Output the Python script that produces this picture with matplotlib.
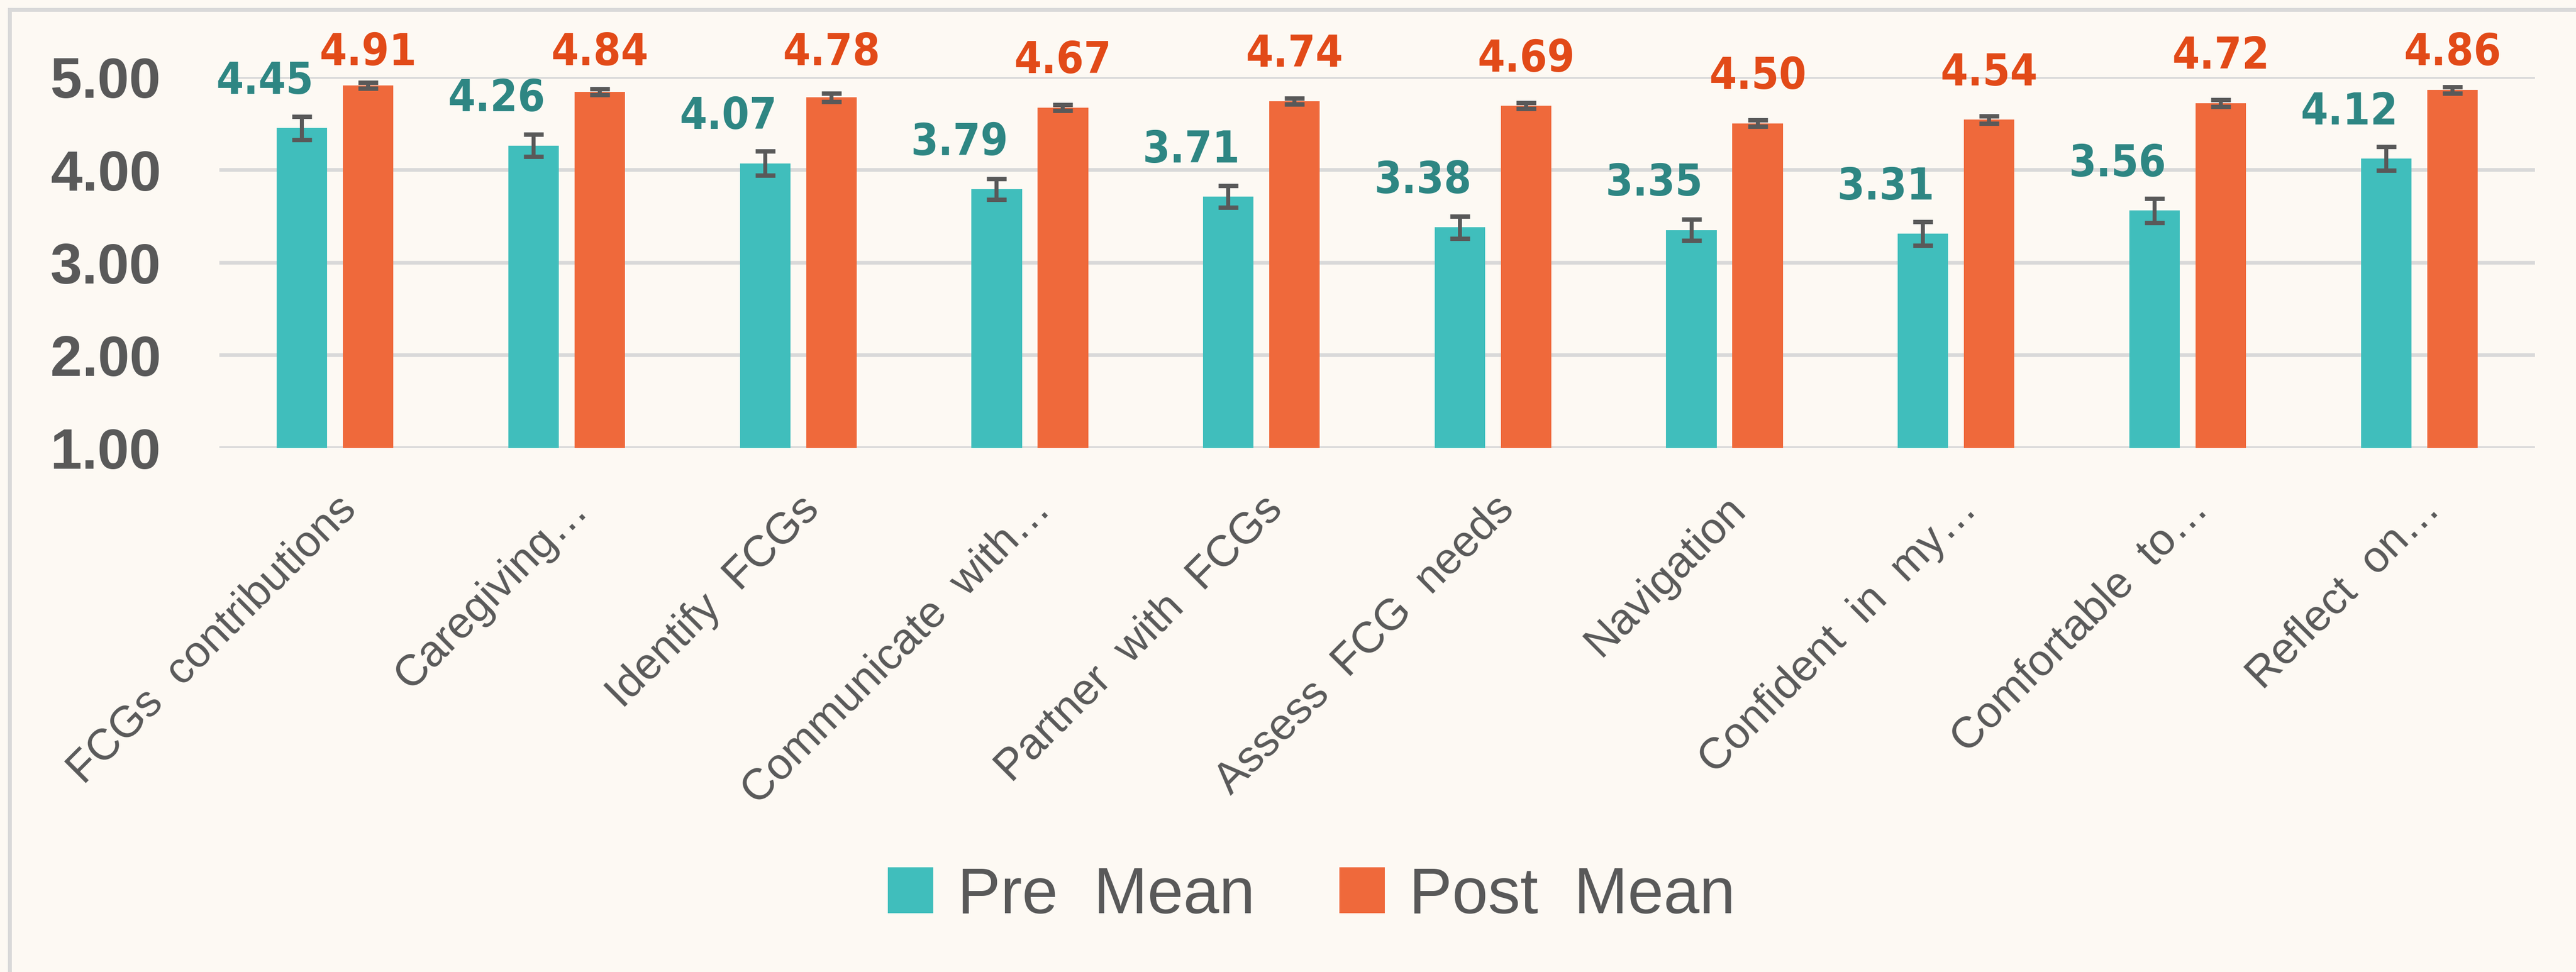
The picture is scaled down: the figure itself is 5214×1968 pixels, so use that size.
import matplotlib
matplotlib.use("Agg")
import matplotlib.pyplot as plt
from matplotlib.patches import Patch
from matplotlib.lines import Line2D
import numpy as np

categories = ["FCGs  contributions", "Caregiving\u2026", "Identify  FCGs", "Communicate  with\u2026",
              "Partner  with  FCGs", "Assess  FCG  needs", "Navigation", "Confident  in  my\u2026",
              "Comfortable  to\u2026", "Reflect  on\u2026"]
pre_mean = [4.45, 4.26, 4.07, 3.79, 3.71, 3.38, 3.35, 3.31, 3.56, 4.12]
post_mean = [4.91, 4.84, 4.78, 4.67, 4.74, 4.69, 4.50, 4.54, 4.72, 4.86]
pre_err = [0.125, 0.12, 0.13, 0.112, 0.117, 0.12, 0.115, 0.127, 0.129, 0.129]
post_err = [0.034, 0.032, 0.045, 0.034, 0.032, 0.031, 0.035, 0.04, 0.037, 0.035]
y_ticks = [1, 2, 3, 4, 5]
legend_labels = ["Pre  Mean", "Post  Mean"]

BG = "#FDF9F3"
TEAL = "#40BEBC"
ORANGE = "#EF693B"
TEAL_TXT = "#2E8683"
ORANGE_TXT = "#E24A18"
GREY = "#595959"
GRID = "#D9D9D9"

W, H, DPI = 5214, 1968, 200
fig = plt.figure(figsize=(W / DPI, H / DPI), dpi=DPI, facecolor=BG)
ax = fig.add_axes([444 / W, 1 - 907 / H, (5131 - 444) / W, (907 - 156) / H])
ax.set_facecolor(BG)

x = np.arange(len(categories))
bw = 0.218
off = 0.143

ax.bar(x - off, pre_mean, width=bw, color=TEAL, zorder=2)
ax.bar(x + off, post_mean, width=bw, color=ORANGE, zorder=2)
ekw = dict(fmt="none", ecolor=GREY, elinewidth=2.9, capsize=7.2, capthick=3.2, zorder=3)
ax.errorbar(x - off, pre_mean, yerr=pre_err, **ekw)
ax.errorbar(x + off, post_mean, yerr=post_err, **ekw)

lab_kw = dict(ha="center", va="baseline", fontsize=32, family="DejaVu Sans",
              fontstretch="condensed", fontweight="bold", clip_on=False)
for i in range(len(categories)):
    ax.text(x[i] - off - 0.16, pre_mean[i] + 0.37, f"{pre_mean[i]:.2f}", color=TEAL_TXT, **lab_kw)
    ax.text(x[i] + off, min(post_mean[i] + 0.37, 5.13), f"{post_mean[i]:.2f}", color=ORANGE_TXT, **lab_kw)

ax.set_xlim(-0.5, len(categories) - 0.5)
ax.set_ylim(1, 5)
ax.set_yticks(y_ticks)
ax.set_yticklabels([f"{v:.2f}" for v in y_ticks], fontsize=41.5, fontweight="bold",
                   family="Liberation Sans", color=GREY)
ax.set_xticks(x)
ax.set_xticklabels(categories, rotation=45, ha="right", rotation_mode="anchor",
                   fontsize=32, family="Liberation Sans", color=GREY)
ax.tick_params(axis="y", length=0, pad=42.5)
ax.tick_params(axis="x", length=0, pad=29.5)
for s in ax.spines.values():
    s.set_visible(False)
ax.set_axisbelow(True)
ax.yaxis.grid(True, color=GRID, linewidth=2.7)
ax.xaxis.grid(False)

handles = [Patch(facecolor=TEAL, edgecolor="none"), Patch(facecolor=ORANGE, edgecolor="none")]
leg = fig.legend(handles, legend_labels, loc="center", bbox_to_anchor=(2655 / W, 1 - 1814 / H),
                 ncol=2, frameon=False, handlelength=0.7, handleheight=0.72, handletextpad=0.38,
                 columnspacing=1.31, prop={"family": "Liberation Sans", "size": 47})
for t in leg.get_texts():
    t.set_color(GREY)

# outer frame (top and left edges visible)
fig.add_artist(Line2D([20 / W, 1], [1 - 20 / H, 1 - 20 / H], transform=fig.transFigure,
                      color=GRID, linewidth=2.9))
fig.add_artist(Line2D([20 / W, 20 / W], [0, 1 - 20 / H], transform=fig.transFigure,
                      color=GRID, linewidth=2.9))

fig.savefig("out.png", dpi=DPI, facecolor=BG)
